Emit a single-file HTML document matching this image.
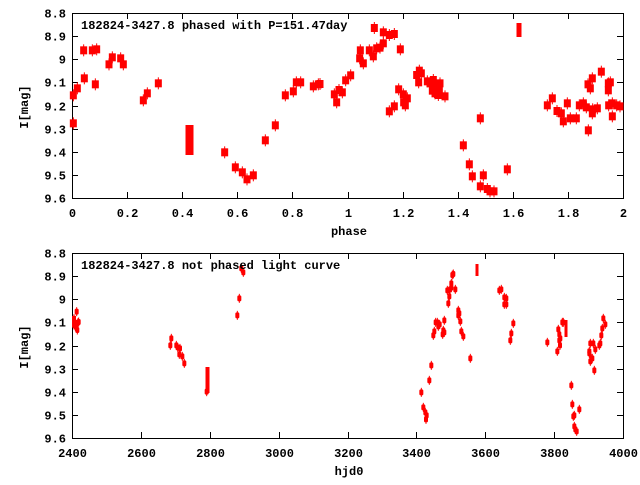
<!DOCTYPE html>
<html><head><style>
html,body{margin:0;padding:0;background:#fff;}
svg text{font-family:"Liberation Mono",monospace;font-weight:bold;font-size:12px;fill:#000;}
</style></head><body>
<svg id="s" width="640" height="480" viewBox="0 0 640 480" xmlns="http://www.w3.org/2000/svg">
<g id="g"></g>
<text x="81" y="29">182824-3427.8 phased with P=151.47day</text>
<text x="81" y="269">182824-3427.8 not phased light curve</text>
<text x="349" y="235" text-anchor="middle">phase</text>
<text x="349" y="475" text-anchor="middle">hjd0</text>
<text transform="translate(28,107) rotate(-90)" text-anchor="middle">I[mag]</text>
<text transform="translate(28,347) rotate(-90)" text-anchor="middle">I[mag]</text>
</svg>
<script>
var g=document.getElementById('g'),NS='http://www.w3.org/2000/svg',s=document.getElementById('s');
function el(t,a){var e=document.createElementNS(NS,t);for(var k in a)e.setAttribute(k,a[k]);g.appendChild(e);return e;}
function txt(x,y,t,anc){var e=document.createElementNS(NS,'text');e.setAttribute('x',x);e.setAttribute('y',y);if(anc)e.setAttribute('text-anchor',anc);e.textContent=t;s.appendChild(e);}
function frame(top,bot,xl){
 var L=72,R=623;
 el('rect',{x:L+.5,y:top+.5,width:R-L,height:bot-top,fill:'none',stroke:'#000','stroke-width':1});
 var yl=['8.8','8.9','9','9.1','9.2','9.3','9.4','9.5','9.6'];
 for(var i=0;i<9;i++){var y=Math.round(top+(bot-top)*i/8)+.5;
  el('line',{x1:L,y1:y,x2:L+6,y2:y,stroke:'#000'});el('line',{x1:R-6,y1:y,x2:R,y2:y,stroke:'#000'});
  txt(66,y+4,yl[i],'end');}
 var n=xl.length-1;
 for(var j=0;j<=n;j++){var x=Math.round(L+(R-L)*j/n)+.5;
  el('line',{x1:x,y1:top,x2:x,y2:top+6,stroke:'#000'});el('line',{x1:x,y1:bot-6,x2:x,y2:bot,stroke:'#000'});
  txt(x,bot+19,xl[j],'middle');}
}
frame(13,198,['0','0.2','0.4','0.6','0.8','1','1.2','1.4','1.6','1.8','2']);
frame(253,438,['2400','2600','2800','3000','3200','3400','3600','3800','4000']);
var A=[[220,286],[220,370],[232,265],[251,151],[253,235],[277,151],[290,148],[286,253],[327,193],[337,172],[362,175],[370,193],[430,301],[442,280],[475,250],[674,457],[706,502],[727,517],[741,538],[760,526],[796,421],[826,376],[856,286],[880,274],[889,247],[902,247],[940,259],[955,253]];
var B=[[0,252],[43,283],[50,307],[57,270],[67,277],[77,241],[92,226],[119,175],[121,151],[130,190],[148,151],[160,169],[163,84],[170,145],[180,143],[190,130],[190,97],[208,105],[223,102],[208,334],[223,319],[236,268],[241,148],[250,283],[251,307],[256,316],[262,295],[290,225],[296,247],[298,212],[304,220],[322,244],[330,250],[337,272],[340,240],[345,280],[350,260],[355,285],[360,250],[358,270],[375,289],[430,436],[448,493],[457,529],[481,355],[481,559],[490,526],[502,567],[510,574],[522,574],[562,508],[682,316],[697,295],[711,333],[724,340],[730,364],[742,310],[751,355],[769,355],[778,316],[790,310],[799,322],[804,253],[805,391],[811,265],[817,235],[817,340],[818,328],[832,325],[844,215],[865,250],[865,271],[866,316],[871,247],[877,349],[877,310],[890,316],[900,319]];
function sq(x,y){el('rect',{x:x-3.5,y:y-4,width:7,height:8,fill:'#f00'});el('line',{x1:x,y1:y-6,x2:x,y2:y+6,stroke:'#f00','stroke-width':1});}
A.forEach(function(p){sq(p[0]/3,p[1]/3);});
B.forEach(function(p){sq(320+p[0]/3,p[1]/3);});
el('rect',{x:185.5,y:125,width:8,height:30,fill:'#f00'});
el('rect',{x:516.5,y:23,width:5,height:14,fill:'#f00'});
el('rect',{x:434,y:82,width:8,height:16,fill:'#f00'});
var C=[[222,236],[222,255],[226,260],[230,215],[234,248],[232,270],[236,246],[225,248],[511,316],[514,295],[529,316],[533,322],[540,325],[538,343],[547,349],[553,370],[620,455],[712,226],[718,175],[724,85],[730,97]];
var D=[[304,457],[310,502],[316,517],[320,526],[318,538],[334,376],[328,421],[340,286],[343,274],[347,247],[352,247],[355,259],[359,253],[368,283],[370,271],[373,277],[373,241],[385,190],[388,169],[382,151],[390,148],[394,130],[394,143],[397,105],[400,102],[406,148],[415,211],[418,220],[415,226],[421,244],[424,274],[430,289],[451,355],[538,151],[544,148],[553,172],[559,175],[553,193],[559,193],[571,301],[574,280],[580,250],[682,307],[712,334],[715,268],[718,283],[718,301],[720,316],[721,295],[727,247],[730,247],[754,436],[757,493],[760,529],[763,526],[763,559],[766,568],[770,574],[778,508],[808,334],[808,340],[811,310],[811,364],[814,355],[817,355],[820,310],[823,391],[826,328],[838,316],[841,310],[844,286],[847,265],[850,235],[856,253]];
function ov(x,y){el('rect',{x:x-2,y:y-3,width:4,height:6,rx:1.5,fill:'#f00'});el('line',{x1:x,y1:y-4.5,x2:x,y2:y+4.5,stroke:'#f00'});}
C.forEach(function(p){ov(p[0]/3,240+p[1]/3);});
D.forEach(function(p){ov(320+p[0]/3,240+p[1]/3);});
el('rect',{x:205.5,y:367,width:4,height:26,fill:'#f00'});
el('rect',{x:475.5,y:264,width:3,height:12,fill:'#f00'});
el('rect',{x:564.5,y:320,width:3,height:17,fill:'#f00'});
el('rect',{x:72,y:316,width:4,height:8,fill:'#f00'});
</script>
</body></html>
